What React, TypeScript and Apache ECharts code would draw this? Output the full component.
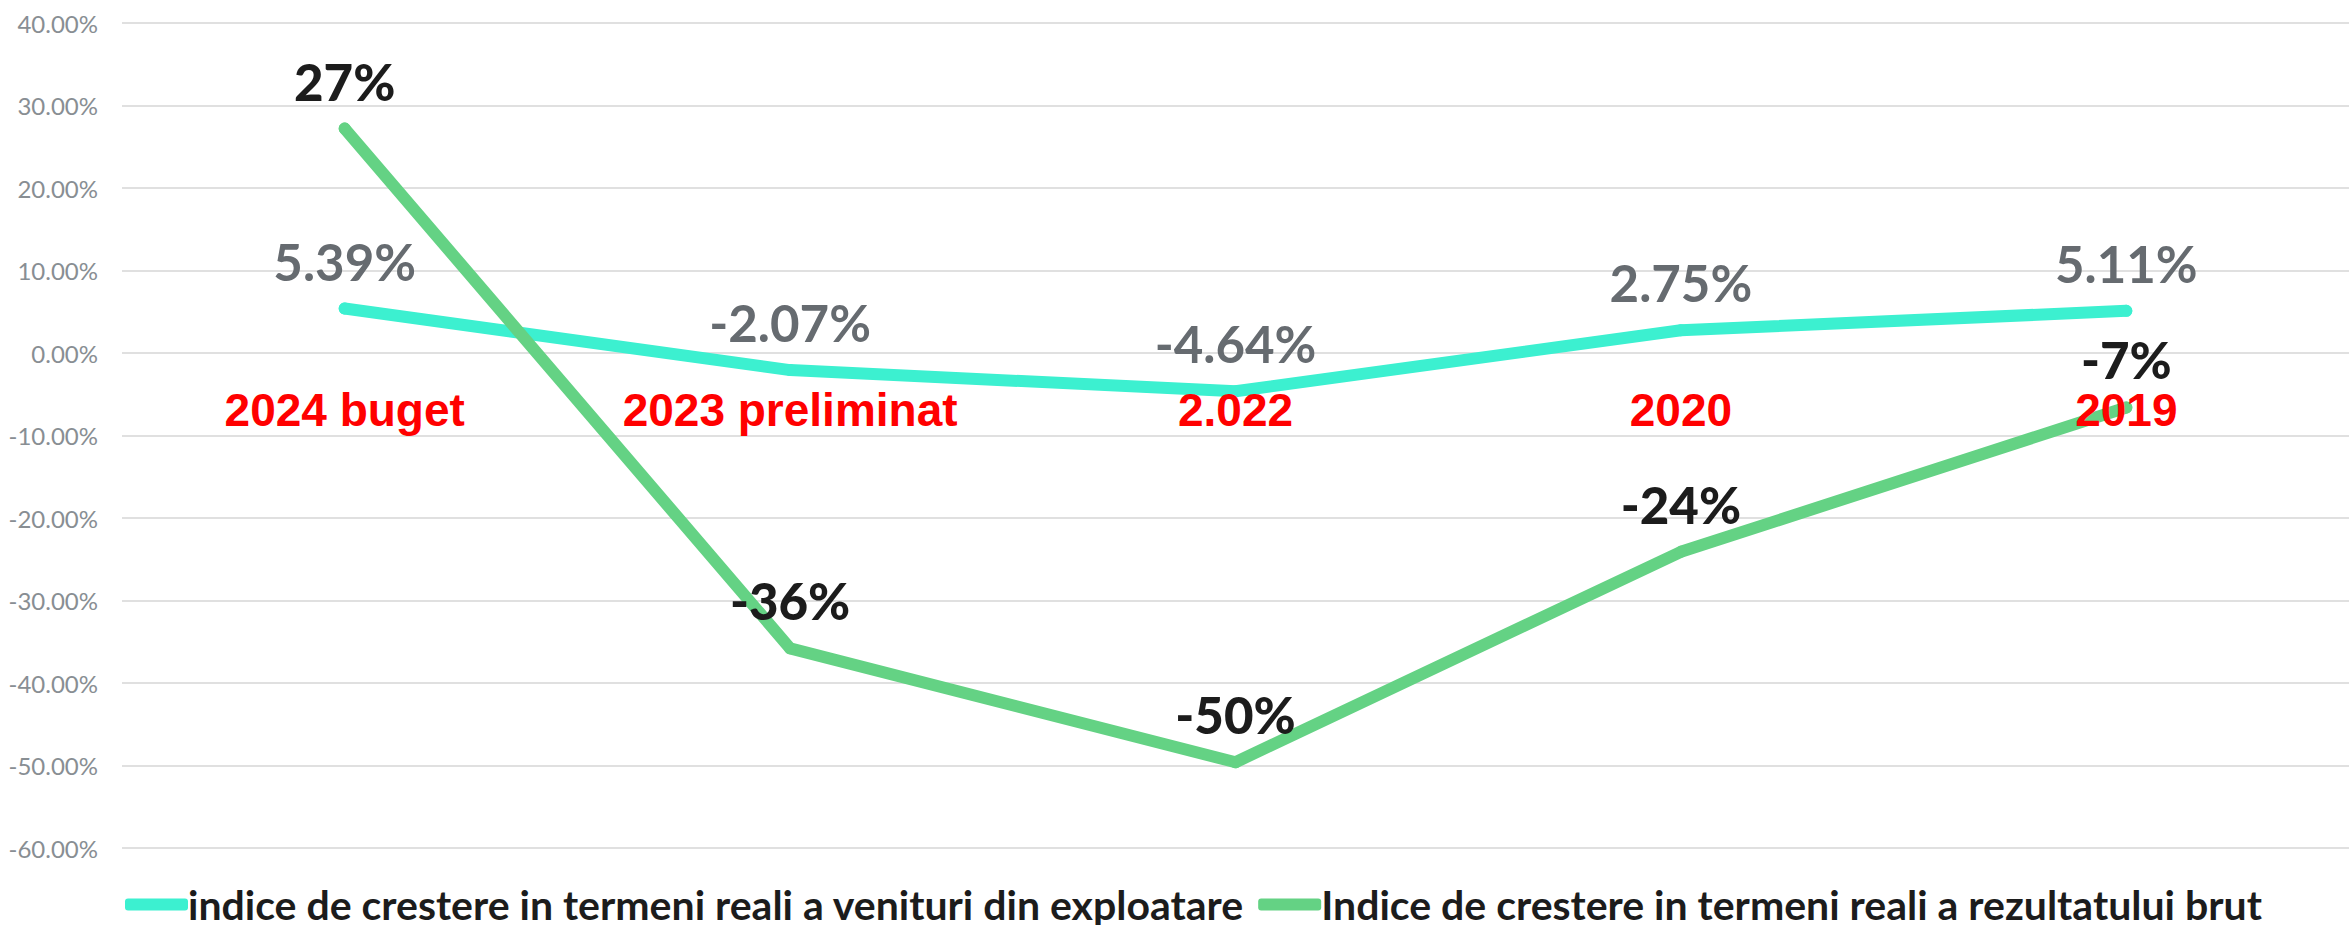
import React, { useEffect, useRef } from "react";
import * as echarts from "echarts";

const categories = ["2024 buget", "2023 preliminat", "2.022", "2020", "2019"];
const venituriValues = [5.39, -2.07, -4.64, 2.75, 5.11];
const rezultatValues = [27.2, -35.8, -49.6, -24.1, -6.6];
const seriesNames = [
  "indice de crestere in termeni reali a venituri din exploatare",
  "Indice de crestere in termeni reali a rezultatului brut",
];
const yMin = -60;
const yMax = 40;
const yInterval = 10;

export default function App() {
  const ref = useRef<HTMLDivElement>(null);
  useEffect(() => {
    if (!ref.current) return;
    const chart = echarts.init(ref.current, undefined, { renderer: "svg" });
    const labelFont = "Lato, 'Noto Sans', sans-serif";
    const gridTop = 23;
    const gridHeight = 825;
    // place the category axis on the zero line
    const zeroOffset = -(gridHeight * (0 - yMin)) / (yMax - yMin);
    chart.setOption({
      animation: false,
      backgroundColor: "#ffffff",
      grid: { left: 122, top: gridTop, width: 2240, height: gridHeight, containLabel: false },
      legend: {
        left: 120,
        top: 879,
        itemWidth: 63,
        itemHeight: 12,
        itemGap: 14,
        icon: "roundRect",
        textStyle: {
          fontFamily: labelFont,
          fontWeight: "bold",
          fontSize: 41,
          lineHeight: 36,
          color: "#1c1c1c",
          padding: [0, 0, 0, -5],
        },
        data: seriesNames,
      },
      xAxis: {
        type: "category",
        data: categories,
        z: 10,
        position: "bottom",
        offset: zeroOffset,
        axisLine: { show: false, onZero: false },
        axisTick: { show: false },
        axisLabel: {
          margin: 34,
          color: "#ff0000",
          fontFamily: "'Liberation Sans', Arial, sans-serif",
          fontWeight: "bold",
          fontSize: 46,
        },
      },
      yAxis: {
        type: "value",
        min: yMin,
        max: yMax,
        interval: yInterval,
        axisLine: { show: false },
        axisTick: { show: false },
        splitLine: { lineStyle: { color: "#e0e0e0", width: 2 } },
        axisLabel: {
          margin: 24,
          color: "#888e93",
          fontFamily: labelFont,
          fontSize: 24,
          formatter: (v: number) => v.toFixed(2) + "%",
        },
      },
      series: [
        {
          name: seriesNames[0],
          type: "line",
          data: venituriValues,
          symbol: "circle",
          symbolSize: 12,
          itemStyle: { color: "#3cf0d0" },
          lineStyle: { color: "#3cf0d0", width: 12, cap: "round", join: "round" },
          label: {
            show: true,
            position: "top",
            distance: 16,
            color: "#666b70",
            fontFamily: labelFont,
            fontWeight: "bold",
            fontSize: 51,
            formatter: (p: any) => Number(p.value).toFixed(2) + "%",
          },
        },
        {
          name: seriesNames[1],
          type: "line",
          data: rezultatValues,
          symbol: "circle",
          symbolSize: 12,
          itemStyle: { color: "#64d284" },
          lineStyle: { color: "#64d284", width: 12, cap: "round", join: "round" },
          label: {
            show: true,
            position: "top",
            distance: 16,
            color: "#1c1c1c",
            fontFamily: labelFont,
            fontWeight: 900,
            fontSize: 51,
            formatter: (p: any) => Number(p.value).toFixed(0) + "%",
          },
        },
      ],
    });
    return () => chart.dispose();
  }, []);
  return (
    <div
      ref={ref}
      style={{ position: "absolute", left: 0, top: 0, width: 2349, height: 925 }}
    />
  );
}
